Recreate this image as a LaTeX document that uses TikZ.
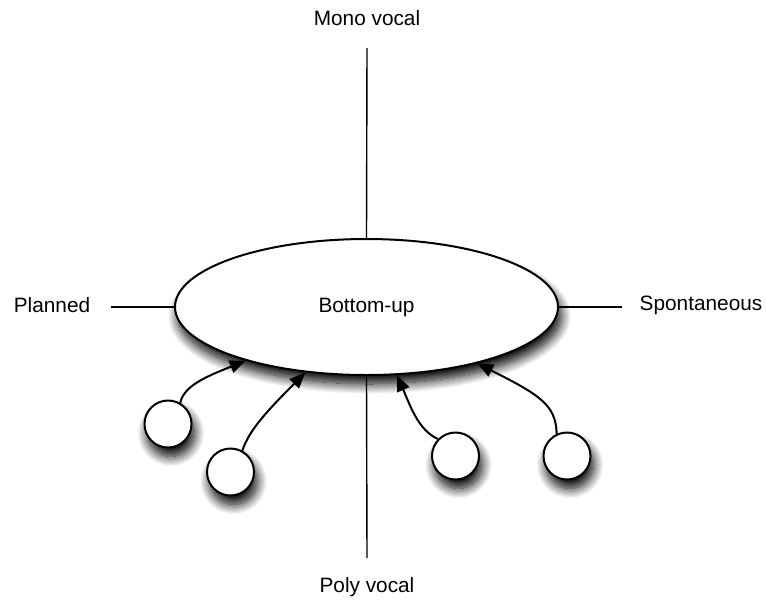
\documentclass[tikz,border=0pt]{standalone}
\usepackage{fontspec}
\setmainfont{Liberation Sans}
\usetikzlibrary{shapes.geometric,arrows.meta,shadows.blur}
\begin{document}
\begin{tikzpicture}[x=0.5pt,y=-0.5pt,
  lbl/.style={font=\fontsize{10.4}{12}\selectfont, inner sep=0},
  axis/.style={line width=0.7pt},
  shad/.style={blur shadow={shadow xshift=1.5pt,shadow yshift=-4.5pt,shadow blur radius=5pt,shadow blur steps=14,shadow opacity=100}},
  bubble/.style={circle,draw,line width=1pt,fill=white,minimum size=23.5pt,inner sep=0,shad},
  link/.style={line width=1pt,-{Triangle[length=8pt,width=6.5pt]}}]
\useasboundingbox (0,0) rectangle (766,602);
% labels
\node[lbl] (mono) at (367,18) {Mono vocal};
\node[lbl] (poly) at (367,587) {Poly vocal};
\node[lbl] (plan) at (52,305) {Planned};
\node[lbl] (spon) at (701,305) {Spontaneous};
\coordinate (top) at (367,48);
\coordinate (bot) at (367,558);
\coordinate (lft) at (111,307);
\coordinate (rgt) at (622,307);
% ellipse
\node[ellipse,draw,line width=1pt,fill=white,minimum width=191.5pt,minimum height=68pt,inner sep=0,shad,lbl] (e) at (366.5,307) {Bottom-up};
\draw[axis] (top) -- (e.north);
\draw[axis] (e.south) -- (bot);
\draw[axis] (lft) -- (e.west);
\draw[axis] (e.east) -- (rgt);
% circles
\node[bubble] (c1) at (168,424) {};
\node[bubble] (c2) at (230.5,472) {};
\node[bubble] (c3) at (455.5,456) {};
\node[bubble] (c4) at (567,456) {};
% arrows
\draw[link] (c1.60) .. controls (184,386) and (205,377) .. (e.204);
\draw[link] (c2.61) .. controls (249,430) and (268,410) .. (e.227);
\draw[link] (c3.136) .. controls (418,430) and (410,405) .. (e.294);
\draw[link] (c4.115) .. controls (556,405) and (540,395) .. (e.333);
\end{tikzpicture}
\end{document}
